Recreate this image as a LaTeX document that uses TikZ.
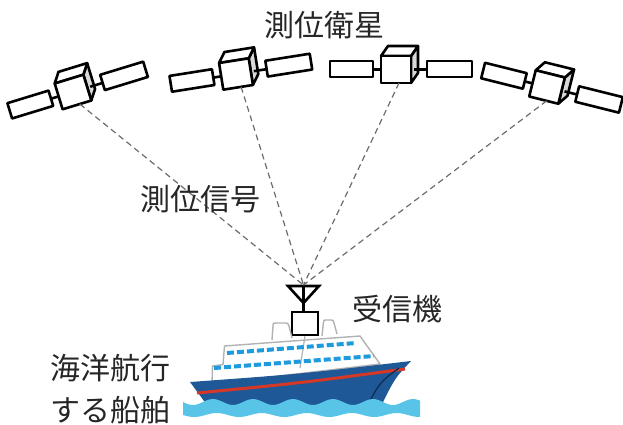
\documentclass[tikz,border=0pt]{standalone}
\usepackage{fontspec}
\newfontfamily\jp{Noto Sans CJK JP}
\begin{document}
\begin{tikzpicture}[x=1pt,y=-1pt,
  satline/.style={line width=2.6pt,line join=round,draw=black},
  sig/.style={draw=gray!85!black,line width=1.2pt,dash pattern=on 6pt off 4pt},
  lbl/.style={font=\jp\fontsize{30}{42}\selectfont,text=black!85,inner sep=0pt,align=center},
  deck/.style={fill=white,draw=gray!60,line width=1.4pt,line join=round},
  window/.style={draw=winblue,line width=4pt,dash pattern=on 7pt off 3pt},
  sat/.pic={
    % solar panels and arms
    \draw[satline,fill=white] (-66,-8.5) rectangle (-23,7.5);
    \draw[satline,fill=white] (31,-8.5) rectangle (76,7.5);
    \draw[satline] (-23,0) -- (-15,0);
    % body: shaded side, top, front
    \filldraw[satline,fill=gray!30] (15,-13.5) -- (22,-23.5) -- (22,3.5) -- (15,13.5) -- cycle;
    \filldraw[satline,fill=white] (-15,-13.5) -- (-8,-23.5) -- (22,-23.5) -- (15,-13.5) -- cycle;
    \filldraw[satline,fill=white] (-15,-13.5) rectangle (15,13.5);
    \draw[satline] (18,0) -- (31,0);
    \coordinate (-bot) at (3,13.5);
  }]
\definecolor{hullblue}{RGB}{30,88,150}
\definecolor{hulldark}{RGB}{14,44,84}
\definecolor{winblue}{RGB}{30,154,222}
\definecolor{shipred}{RGB}{214,56,40}
\definecolor{sea}{RGB}{88,196,232}
\useasboundingbox (0,0) rectangle (623,424);

% satellites
\pic (s1) [rotate=17] at (73,92) {sat};
\pic (s2) [rotate=9] at (236,74) {sat};
\pic (s3) at (396,69.5) {sat};
\pic (s4) [rotate=-14] at (547,87) {sat};

% receiver antenna and box
\coordinate (ant) at (303.5,285);
\draw[line width=2.6pt,line join=miter] (288,286) -- (319,286) -- (303.5,303) -- cycle;
\node (rx) [draw,line width=2.6pt,fill=white,minimum width=26pt,minimum height=23pt,inner sep=0pt] at (305,323.5) {};
\draw[line width=2.6pt] (303.5,286) -- (rx.north -| 303.5,0);

% positioning signals
\foreach \s in {s1,s2,s3,s4} \draw[sig] (\s-bot) -- (ant);

% ship: cabins on the top deck
\draw[deck] (272,340) -- (273,326) .. controls (273,323) .. (276,323) -- (285,323) .. controls (288,323) .. (289,326) -- (292,338);
\draw[deck] (322,336) -- (323.5,322) .. controls (324,320) .. (326,320) -- (331,320) .. controls (333,320) .. (334,323) -- (337,334);
% superstructure
\draw[deck] (212,384) -- (212.5,366) -- (223,364.5) -- (224.5,346) -- (360,336) -- (380,364) -- cycle;
\draw[draw=gray!60,line width=1.2pt] (305,336) -- (300,368);
\draw[window] (227,353) -- (356,343);
\draw[window] (214,368) -- (374,356);
% hull
\fill[hullblue] (190,382) .. controls (300,374) .. (411,361) .. controls (395,378) .. (381,406) -- (207,405) -- cycle;
\draw[shipred,line width=3pt] (197,393) .. controls (300,383) .. (405,369);
\draw[hulldark,line width=1.3pt] (399,368) .. controls (380,382) .. (366,408);
% sea
\fill[sea] plot[domain=183:420,samples=90] (\x,{402+3*sin((\x-183)*9)})
  -- plot[domain=420:183,samples=90] (\x,{415+2*sin((\x-183)*8)}) -- cycle;

% labels
\node (tsat) [lbl] at (324,25) {測位衛星};
\node (tsig) [lbl] at (200,199) {測位信号};
\node (trx) [lbl] at (397,309) {受信機};
\node (tship) [lbl] at (110,389) {海洋航行\\する船舶};
\end{tikzpicture}
\end{document}
